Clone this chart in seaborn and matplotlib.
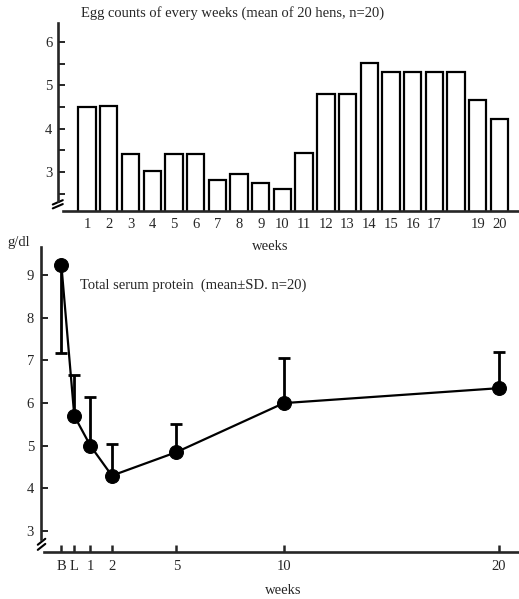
import matplotlib
matplotlib.use("Agg")
import matplotlib.pyplot as plt
import seaborn as sns
import pandas as pd

# Weekly egg counts (mean of 20 hens)
egg_weeks = [str(i) for i in range(1, 21)]
egg_tick_labels = ["1", "2", "3", "4", "5", "6", "7", "8", "9", "10",
                   "11", "12", "13", "14", "15", "16", "17", "", "19", "20"]
egg_counts = [4.50, 4.53, 3.42, 3.03, 3.42, 3.42, 2.82, 2.95, 2.75, 2.60,
              3.45, 4.80, 4.80, 5.52, 5.30, 5.30, 5.30, 5.30, 4.66, 4.23]

# Total serum protein, g/dl (mean ± SD)
protein_labels = ["B", "L", "1", "2", "5", "10", "20"]
protein_weeks = [-0.35, 0.25, 1, 2, 5, 10, 20]
protein_mean = [9.23, 5.70, 5.00, 4.30, 4.85, 6.00, 6.35]
protein_sd = [2.05, 0.95, 1.15, 0.75, 0.65, 1.05, 0.85]
sd_below = [True, False, False, False, False, False, False]

sns.set_style("ticks")
plt.rcParams["font.family"] = ["Liberation Serif", "DejaVu Serif"]
plt.rcParams["axes.linewidth"] = 1.9

W, H = 519, 599
fig = plt.figure(figsize=(W / 100, H / 100), dpi=100)


def fx(px):
    return px / W


def fy(py):
    return 1 - py / H


# ---------------- egg counts (bars) ----------------
ax1 = fig.add_axes([fx(58), fy(211), 1 - fx(58), fy(23) - fy(211)])
egg_df = pd.DataFrame({"week": egg_weeks, "eggs": egg_counts})
sns.barplot(data=egg_df, x="week", y="eggs", order=egg_weeks, color="white",
            edgecolor="black", linewidth=1.6, width=0.80, saturation=1, ax=ax1)
ax1.set_ylim(2.1, 6.44)
ax1.set_xlim(-1.34, 19.9)
ax1.set_yticks([3, 4, 5, 6])
ax1.set_yticks([2.5, 3.5, 4.5, 5.5], minor=True)
ax1.set_xticks(range(len(egg_tick_labels)))
ax1.set_xticklabels(egg_tick_labels)
ax1.tick_params(axis="y", which="major", direction="in", length=5, width=1.4,
                labelsize=10.5, pad=4)
ax1.tick_params(axis="y", which="minor", direction="in", length=5, width=1.4)
ax1.tick_params(axis="x", length=0, labelsize=10.5, pad=5)
ax1.set_xlabel("")
ax1.set_ylabel("")
for s in ("top", "right"):
    ax1.spines[s].set_visible(False)
ax1.spines["left"].set_bounds(2.32, 6.44)
ax1.spines["bottom"].set_bounds(-1.1, 19.9)
# axis break mark
for dy in (0.0, 0.09):
    ax1.plot([-1.58, -1.12], [2.16 + dy, 2.26 + dy], color="black", lw=1.5,
             clip_on=False)

# ---------------- serum protein (line) ----------------
ax2 = fig.add_axes([fx(41), fy(552), 1 - fx(41), fy(247) - fy(552)])
prot_df = pd.DataFrame({"week": protein_weeks, "protein": protein_mean})
sns.lineplot(data=prot_df, x="week", y="protein", color="black", lw=1.6,
             marker="o", markersize=10, markeredgecolor="black", ax=ax2)
lower = [sd if b else 0 for sd, b in zip(protein_sd, sd_below)]
upper = [0 if b else sd for sd, b in zip(protein_sd, sd_below)]
ax2.errorbar(protein_weeks, protein_mean, yerr=[lower, upper], fmt="none",
             ecolor="black", elinewidth=2.0, capsize=4.5, capthick=2.0)
ax2.set_ylim(2.51, 9.66)
ax2.set_xlim(-1.30, 20.95)
ax2.set_yticks([3, 4, 5, 6, 7, 8, 9])
ax2.set_xticks(protein_weeks)
ax2.set_xticklabels(protein_labels)
ax2.tick_params(axis="y", direction="in", length=5, width=1.4, labelsize=10.5,
                pad=5)
ax2.tick_params(axis="x", direction="in", length=5, width=1.8, labelsize=10.5,
                pad=6)
ax2.set_xlabel("")
ax2.set_ylabel("")
for s in ("top", "right"):
    ax2.spines[s].set_visible(False)
ax2.spines["left"].set_bounds(2.82, 9.66)
ax2.spines["bottom"].set_bounds(-1.15, 20.95)
for dy in (0.0, 0.12):
    ax2.plot([-1.45, -1.1], [2.56 + dy, 2.70 + dy], color="black", lw=1.5,
             clip_on=False)

# ---------------- texts ----------------
fig.text(fx(233), fy(13), "Egg counts of every weeks (mean of 20 hens, n=20)",
         ha="center", va="center", fontsize=10.5)
fig.text(fx(270), fy(247), "weeks", ha="center", va="center", fontsize=10.5)
fig.text(fx(7), fy(243), "g/dl", ha="left", va="center", fontsize=10.5)
fig.text(fx(80), fy(285), "Total serum protein  (mean\u00b1SD. n=20)",
         ha="left", va="center", fontsize=10.5)
fig.text(fx(283), fy(590), "weeks", ha="center", va="center", fontsize=10.5)

fig.savefig("out.png", dpi=100, facecolor="white")
